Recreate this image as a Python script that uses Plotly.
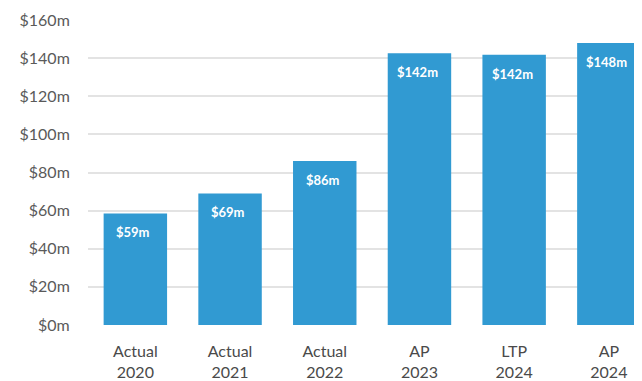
import plotly.graph_objects as go

categories = ["Actual<br>2020", "Actual<br>2021", "Actual<br>2022", "AP<br>2023", "LTP<br>2024", "AP<br>2024"]
values = [58.5, 69, 86, 142.6, 141.8, 148]
value_labels = ["$59m", "$69m", "$86m", "$142m", "$142m", "$148m"]
tick_vals = [0, 20, 40, 60, 80, 100, 120, 140, 160]
tick_text = ["$0m", "$20m", "$40m", "$60m", "$80m", "$100m", "$120m", "$140m", "$160m"]

bar_color = "#319ad2"

fig = go.Figure()
fig.add_trace(go.Bar(
    x=list(range(len(categories))),
    y=values,
    marker=dict(color=bar_color, line=dict(width=0)),
    width=0.67,
    hoverinfo="skip",
))

for i, (v, lab) in enumerate(zip(values, value_labels)):
    fig.add_annotation(
        x=i, y=v, text="<b>" + lab + "</b>", showarrow=False,
        yshift=-19, xshift=-2, font=dict(color="white", size=13, family="Lato"),
        xref="x", yref="y",
    )

fig.update_layout(
    width=634, height=373,
    margin=dict(l=80, r=0, t=12, b=56),
    paper_bgcolor="white", plot_bgcolor="white",
    showlegend=False,
    font=dict(family="Lato", color="#555555"),
    xaxis=dict(
        tickmode="array",
        tickvals=list(range(len(categories))),
        ticktext=categories,
        range=[-0.5, 5.35],
        showgrid=False, zeroline=False, showline=False,
        tickfont=dict(size=16, color="#4a4a4a"),
        ticks="outside", ticklen=12, tickcolor="rgba(0,0,0,0)",
    ),
    yaxis=dict(
        range=[0, 160],
        tickmode="array",
        tickvals=tick_vals,
        ticktext=tick_text,
        showgrid=True, gridcolor="#e3e3e3", gridwidth=1.5,
        zeroline=False, showline=False,
        tickfont=dict(size=16, color="#5a5a5a"),
        ticks="outside", ticklen=14, tickcolor="rgba(0,0,0,0)",
    ),
)

fig.write_html("out.html")
